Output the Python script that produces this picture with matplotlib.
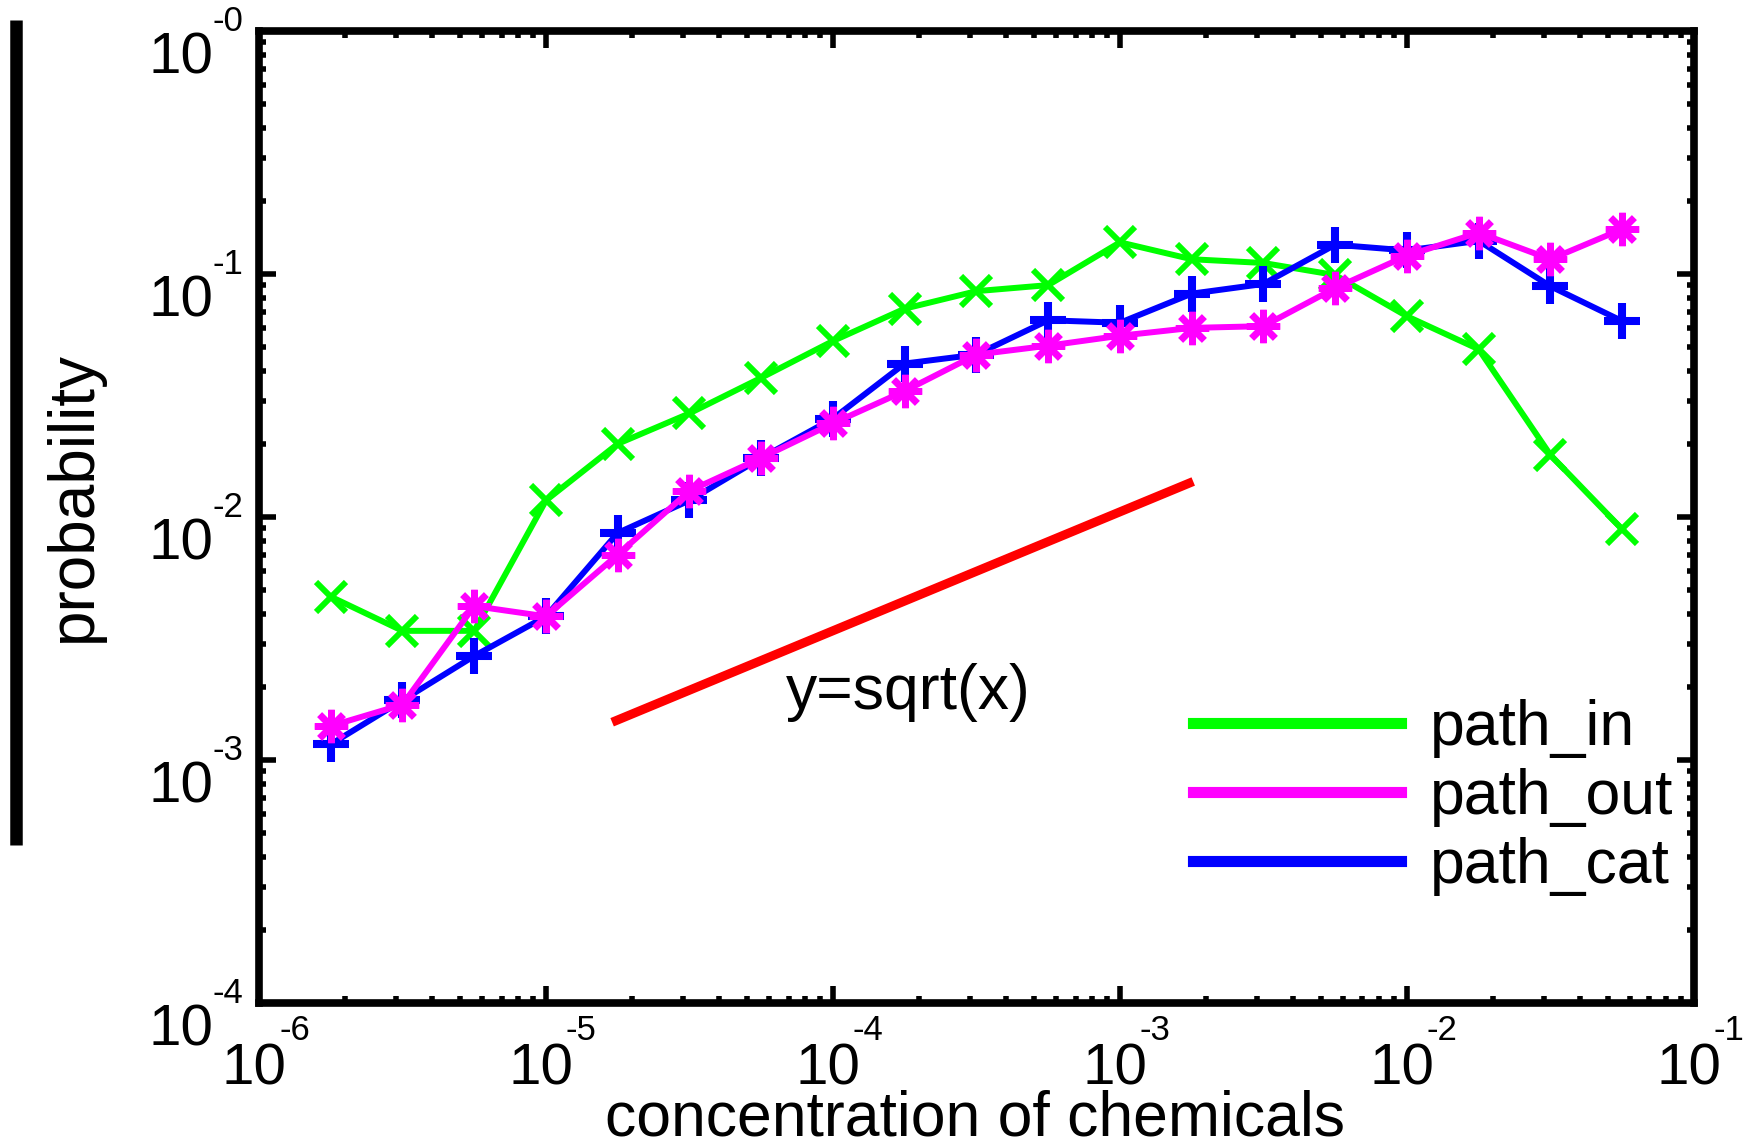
import numpy as np
import matplotlib
matplotlib.use('Agg')
import matplotlib.pyplot as plt
from matplotlib.lines import Line2D

plt.rcParams['font.family'] = ['Liberation Sans', 'DejaVu Sans']

# concentration bins, quarter-decade steps
log_conc = [-5.75, -5.5, -5.25, -5.0, -4.75, -4.5, -4.25, -4.0, -3.75, -3.5,
            -3.25, -3.0, -2.75, -2.5, -2.25, -2.0, -1.75, -1.5, -1.25]
conc = [10.0 ** e for e in log_conc]

path_in = [4.7e-3, 3.4e-3, 3.4e-3, 1.17e-2, 2.0e-2, 2.67e-2, 3.74e-2, 5.3e-2, 7.2e-2, 8.5e-2,
           9.0e-2, 0.135, 0.115, 0.111, 0.099, 0.067, 0.049, 0.018, 8.9e-3]
path_out = [1.38e-3, 1.69e-3, 4.3e-3, 3.9e-3, 7.0e-3, 1.28e-2, 1.75e-2, 2.43e-2, 3.3e-2, 4.66e-2,
            5.07e-2, 5.57e-2, 6.0e-2, 6.1e-2, 8.75e-2, 0.119, 0.148, 0.115, 0.153]
path_cat = [1.16e-3, 1.76e-3, 2.68e-3, 3.9e-3, 8.6e-3, 1.17e-2, 1.75e-2, 2.54e-2, 4.28e-2, 4.66e-2,
            6.45e-2, 6.3e-2, 8.3e-2, 9.1e-2, 0.132, 0.125, 0.137, 0.089, 0.064]

# y = sqrt(x) guide segment
guide_x = [1.7e-5, 1.8e-3]
guide_y = [1.43e-3, 1.4e-2]

x_ticks = [1e-6, 1e-5, 1e-4, 1e-3, 1e-2, 1e-1]
x_tick_exp = ['-6', '-5', '-4', '-3', '-2', '-1']
y_ticks = [1e-4, 1e-3, 1e-2, 1e-1, 1e0]
y_tick_exp = ['-4', '-3', '-2', '-1', '-0']

fig = plt.figure(figsize=(17.48, 11.40), dpi=100)
ax = fig.add_axes([0.14817, 0.12018, 0.8209, 0.85263])

lw = 4.3
ms = 22
ax.plot(conc, path_in, color='#00ff00', lw=lw, marker='x', ms=ms, mew=lw, zorder=3)
ax.plot(conc, path_cat, color='#0000ff', lw=lw, marker='+', ms=ms + 4, mew=lw + 1.5, zorder=4)
ax.plot(conc, path_out, color='#ff00ff', lw=lw, marker=(8, 2, 0), ms=ms + 2, mew=lw + 0.5, zorder=5)
ax.plot(guide_x, guide_y, color='#ff0000', lw=6.5, solid_capstyle='butt', zorder=2)

ax.text(1.83e-4, 1.9e-3, 'y=sqrt(x)', fontsize=45, ha='center', va='center')

ax.set_xscale('log')
ax.set_yscale('log')
ax.set_xlim(1e-6, 1e-1)
ax.set_ylim(1e-4, 1e0)
ax.set_xticks(x_ticks)
ax.set_yticks(y_ticks)

ax.tick_params(which='both', direction='in', top=True, right=True, width=4,
               labelbottom=False, labelleft=False)
ax.tick_params(which='major', length=12)
ax.tick_params(which='minor', length=5)
for sp in ax.spines.values():
    sp.set_linewidth(5.5)

# decade labels: big "10" with a small raised exponent
for v, e in zip(x_ticks, x_tick_exp):
    ax.annotate('10', xy=(v, 0), xycoords=ax.get_xaxis_transform(), xytext=(-5, -82),
                textcoords='offset pixels', ha='center', va='baseline', fontsize=42,
                annotation_clip=False)
    ax.annotate(e, xy=(v, 0), xycoords=ax.get_xaxis_transform(), xytext=(20, -37),
                textcoords='offset pixels', ha='left', va='baseline', fontsize=25,
                annotation_clip=False)
for v, e in zip(y_ticks, y_tick_exp):
    ax.annotate('10', xy=(0, v), xycoords=ax.get_yaxis_transform(), xytext=(-46, -43),
                textcoords='offset pixels', ha='right', va='baseline', fontsize=42,
                annotation_clip=False)
    ax.annotate(e, xy=(0, v), xycoords=ax.get_yaxis_transform(), xytext=(-47, 0),
                textcoords='offset pixels', ha='left', va='baseline', fontsize=25,
                annotation_clip=False)

ax.set_xlabel('concentration of chemicals', fontsize=45, va='baseline')
ax.xaxis.set_label_coords(0.499, -0.1368)
ax.set_ylabel('probability', fontsize=46, va='center')
ax.yaxis.set_label_coords(-0.1289, 0.5216)

handles = [Line2D([], [], color='#00ff00', lw=8),
           Line2D([], [], color='#ff00ff', lw=8),
           Line2D([], [], color='#0000ff', lw=8)]
ax.legend(handles, ['path_in', 'path_out', 'path_cat'], frameon=False, fontsize=45,
          loc='center left', bbox_to_anchor=(0.6509, 0.2119), handlelength=3.33,
          handletextpad=0.46, labelspacing=0.16, borderaxespad=0, borderpad=0)

# dark bar along the left edge
fig.add_artist(Line2D([0.0092, 0.0092], [1 - 20 / 1140, 1 - 845 / 1140], color='black',
                      lw=9, solid_capstyle='butt', transform=fig.transFigure))

fig.savefig('out.png', dpi=100)
